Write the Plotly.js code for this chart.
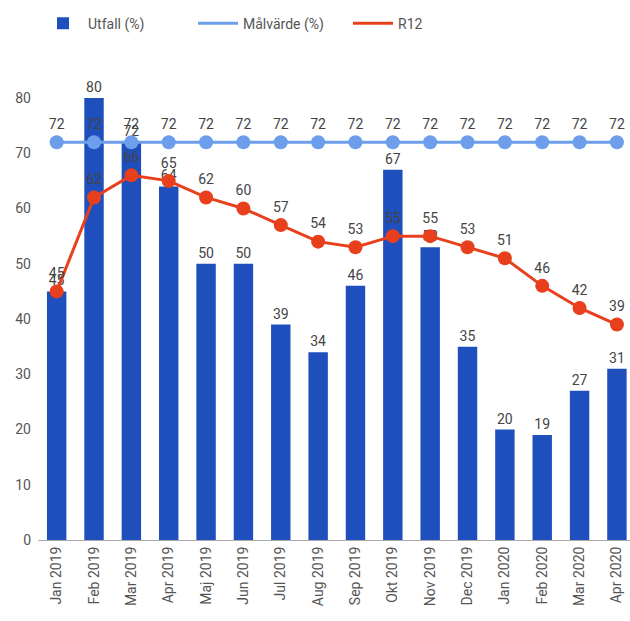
<!DOCTYPE html>
<html>
<head>
<meta charset="utf-8">
<script src="https://cdn.plot.ly/plotly-3.0.1.min.js"></script>
<style>html,body{margin:0;padding:0;background:#fff;}#chart{width:630px;height:621px;}</style>
</head>
<body>
<div id="chart"></div>
<script>
const months = ["Jan 2019","Feb 2019","Mar 2019","Apr 2019","Maj 2019","Jun 2019","Jul 2019","Aug 2019","Sep 2019","Okt 2019","Nov 2019","Dec 2019","Jan 2020","Feb 2020","Mar 2020","Apr 2020"];
const utfall = [45,80,72,64,50,50,39,34,46,67,53,35,20,19,27,31];
const malvarde = [72,72,72,72,72,72,72,72,72,72,72,72,72,72,72,72];
const r12 = [45,62,66,65,62,60,57,54,53,55,55,53,51,46,42,39];
const yTicks = [0,10,20,30,40,50,60,70,80];

const BAR = "#1f4fbd", GOAL = "#6d9eeb", R12C = "#e8401c";
const labelFont = {family: "Roboto, Arial, sans-serif", size: 14, color: "#444"};

const traces = [
  {
    type: "bar", name: "Utfall (%)", x: months, y: utfall, showlegend: false,
    text: utfall.map(String), textposition: "outside", textfont: labelFont,
    marker: {color: BAR}, width: 0.52, cliponaxis: false
  },
  {
    type: "scatter", mode: "lines+markers+text", name: "Målvärde (%)", x: months, y: malvarde, showlegend: false,
    text: malvarde.map(String), textposition: "top center", textfont: labelFont,
    line: {color: GOAL, width: 3}, marker: {color: GOAL, size: 14}, cliponaxis: false
  },
  {
    type: "scatter", mode: "lines+markers+text", name: "R12", x: months, y: r12, showlegend: false,
    text: r12.map(String), textposition: "top center", textfont: labelFont,
    line: {color: R12C, width: 3}, marker: {color: R12C, size: 14}, cliponaxis: false
  },
  // legend entries only (no data drawn)
  {type: "bar", name: "Utfall (%)", x: [null], y: [null], marker: {color: BAR}, hoverinfo: "skip"},
  {type: "scatter", mode: "lines", name: "Målvärde (%)", x: [null], y: [null], line: {color: GOAL, width: 3}, hoverinfo: "skip"},
  {type: "scatter", mode: "lines", name: "R12", x: [null], y: [null], line: {color: R12C, width: 3}, hoverinfo: "skip"}
];

const layout = {
  width: 630, height: 621,
  margin: {l: 38, r: 0, t: 70, b: 81},
  paper_bgcolor: "#fff", plot_bgcolor: "#fff",
  font: {family: "Roboto, Arial, sans-serif", size: 14, color: "#555"},
  showlegend: true,
  legend: {orientation: "h", x: 0, xanchor: "left", yref: "container", y: 0.962, yanchor: "middle",
           font: {family: "Roboto, Arial, sans-serif", size: 14, color: "#555"}, itemwidth: 40,
           entrywidth: 100, entrywidthmode: "pixels", traceorder: "normal"},
  xaxis: {type: "category", range: [-0.5, 15.35], tickangle: -90, showgrid: false, zeroline: false,
          showline: true, linecolor: "#aaa", linewidth: 1, ticks: "",
          tickfont: {family: "Roboto, Arial, sans-serif", size: 14, color: "#555"}},
  yaxis: {range: [0, 85.07], tickvals: yTicks, showgrid: false, zeroline: false, showline: false, ticks: "",
          ticklabelstandoff: 6,
          tickfont: {family: "Roboto, Arial, sans-serif", size: 14, color: "#555"}},
  bargap: 0.48
};

Plotly.newPlot("chart", traces, layout, {displayModeBar: false, staticPlot: true});
</script>
</body>
</html>
